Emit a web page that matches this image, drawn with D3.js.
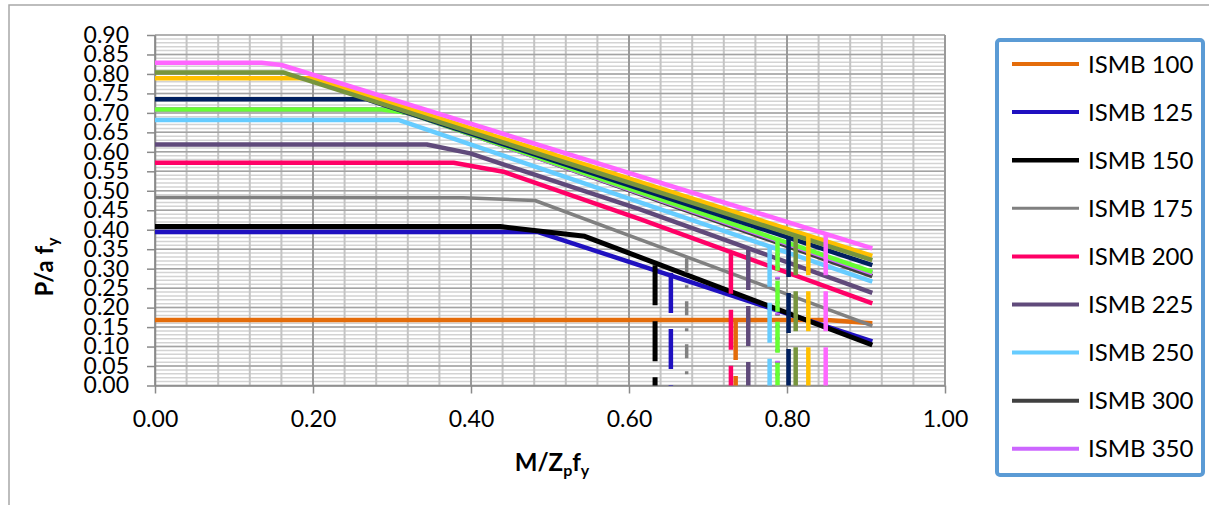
<!DOCTYPE html>
<meta charset="utf-8">
<style>
/* set the CSS */
body { margin: 0; background: #fff; }
text { font-family: Lato, "Open Sans", sans-serif; fill: #000; }

.grid-minor { stroke: #d3d3d3; stroke-width: 1.5px; }
.grid-vminor { stroke: #c4c4c4; stroke-width: 2px; }
.grid-major { stroke: #a3a3a3; stroke-width: 1.5px; }
.grid-vmajor { stroke: #9a9a9a; stroke-width: 2px; }

.axis path, .axis line { stroke: #8a8a8a; stroke-width: 1.5px; }
.axis text { font-size: 23px; }

.curve { fill: none; stroke-linejoin: round; }
.drop { fill: none; stroke-linecap: butt; }
</style>

<body>
    <!-- load the d3.js library -->
    <script src="https://d3js.org/d3.v7.min.js"></script>
    <script>
    // sections, in the order the workbook draws them
    var names = ["ISMB 100", "ISMB 125", "ISMB 150", "ISMB 175", "ISMB 200",
                 "ISMB 225", "ISMB 250", "ISMB 300", "ISMB 350", "ISMB 400",
                 "ISMB 450", "ISMB 500", "ISMB 550", "ISMB 600"];

    // only the first nine fit in the legend box
    var legendNames = names.slice(0, 9);

    // interaction curves: [M/Zp fy, P/a fy]
    var ismb100 = [[0, 0.168], [0.85, 0.168], [0.908, 0.160]];
    var ismb125 = [[0, 0.394], [0.485, 0.394], [0.908, 0.113]];
    var ismb150 = [[0, 0.408], [0.437, 0.408], [0.544, 0.383], [0.908, 0.104]];
    var ismb175 = [[0, 0.483], [0.39, 0.482], [0.481, 0.475], [0.908, 0.153]];
    var ismb200 = [[0, 0.572], [0.378, 0.572], [0.441, 0.549], [0.614, 0.427], [0.908, 0.211]];
    var ismb225 = [[0, 0.619], [0.344, 0.619], [0.399, 0.596], [0.614, 0.452], [0.908, 0.238]];
    var ismb250 = [[0, 0.682], [0.308, 0.682], [0.908, 0.267]];
    var ismb300 = [[0, 0.708], [0.30, 0.708], [0.33, 0.695], [0.908, 0.281]];
    var ismb350 = [[0, 0.708], [0.30, 0.708], [0.32, 0.700], [0.908, 0.288]];
    var ismb400 = [[0, 0.709], [0.285, 0.709], [0.32, 0.700], [0.908, 0.292]];
    var ismb450 = [[0, 0.735], [0.268, 0.735], [0.908, 0.309]];
    var ismb500 = [[0, 0.789], [0.20, 0.789], [0.908, 0.333]];
    var ismb550 = [[0, 0.804], [0.162, 0.804], [0.908, 0.322]];
    var ismb600 = [[0, 0.829], [0.135, 0.829], [0.16, 0.823], [0.908, 0.352]];

    // the vertical drop line of each section: x position and top value
    var dropX   = [0.735, 0.653, 0.633, 0.673, 0.729, 0.751, 0.778, 0.788, 0.788, 0.788, 0.802, 0.827, 0.811, 0.849];
    var dropTop = [0.168, 0.289, 0.309, 0.327, 0.338, 0.348, 0.356, 0.370, 0.372, 0.374, 0.381, 0.386, 0.386, 0.386];

    // tick labels
    var xTicks = [0, 0.2, 0.4, 0.6, 0.8, 1.0];
    var yTicks = [0, 0.05, 0.1, 0.15, 0.2, 0.25, 0.3, 0.35, 0.4, 0.45,
                  0.5, 0.55, 0.6, 0.65, 0.7, 0.75, 0.8, 0.85, 0.9];

    var curves = [ismb100, ismb125, ismb150, ismb175, ismb200, ismb225, ismb250,
                  ismb300, ismb350, ismb400, ismb450, ismb500, ismb550, ismb600];

    // styles
    var colors = ["#E46C0A", "#1F10C0", "#000000", "#808080", "#FF0066", "#604A7B", "#66CCFF",
                  "#404040", "#CC66FF", "#66FF33", "#002060", "#FFC000", "#77953D", "#FF66FF"];
    var widths = [4.5, 4.5, 5, 3.5, 4.5, 4.5, 4.5, 4.5, 4.5, 4.5, 4.5, 4.5, 4.5, 4.5];
    var dashes = ["40,16", "40,16", "40,16", "14,13,3,13", "40,16", "40,16", "40,16",
                  "2,10", "2,10", "31,10", "40,16", "40,16", "40,16", "40,16"];

    // plot area
    var plotLeft = 155, plotRight = 945, plotTop = 35, plotBottom = 385.5;

    var x = d3.scaleLinear().domain([0, 1]).range([plotLeft, plotRight]);
    var y = d3.scaleLinear().domain([0, 0.9]).range([plotBottom, plotTop]);

    var svg = d3.select("body").append("svg")
        .attr("width", 1209)
        .attr("height", 505);

    // chart frame
    svg.append("rect")
        .attr("x", 9).attr("y", 5)
        .attr("width", 1230).attr("height", 530)
        .attr("fill", "none")
        .attr("stroke", "#a8a8a8")
        .attr("stroke-width", 1.5);

    // gridlines
    var grid = svg.append("g");
    var yMinor = d3.range(0, 91).map(function(i) { return i / 100; });
    var xMinor = d3.range(0, 26).map(function(i) { return i * 0.04; });

    grid.selectAll(".grid-minor").data(yMinor).enter().append("line")
        .attr("class", "grid-minor")
        .attr("x1", plotLeft).attr("x2", plotRight)
        .attr("y1", function(d) { return y(d); })
        .attr("y2", function(d) { return y(d); });

    grid.selectAll(".grid-vminor").data(xMinor).enter().append("line")
        .attr("class", "grid-vminor")
        .attr("y1", plotTop).attr("y2", plotBottom)
        .attr("x1", function(d) { return x(d); })
        .attr("x2", function(d) { return x(d); });

    grid.selectAll(".grid-major").data(yTicks).enter().append("line")
        .attr("class", "grid-major")
        .attr("x1", plotLeft).attr("x2", plotRight)
        .attr("y1", function(d) { return y(d); })
        .attr("y2", function(d) { return y(d); });

    grid.selectAll(".grid-vmajor").data(xTicks).enter().append("line")
        .attr("class", "grid-vmajor")
        .attr("y1", plotTop).attr("y2", plotBottom)
        .attr("x1", function(d) { return x(d); })
        .attr("x2", function(d) { return x(d); });

    // axes
    svg.append("g")
        .attr("class", "axis")
        .attr("transform", "translate(" + plotLeft + ",0)")
        .call(d3.axisLeft(y).tickValues(yTicks).tickFormat(d3.format(".2f"))
            .tickSize(8).tickSizeOuter(0).tickPadding(18));

    svg.append("g")
        .attr("class", "axis")
        .attr("transform", "translate(0," + plotBottom + ")")
        .call(d3.axisBottom(x).tickValues(xTicks).tickFormat(d3.format(".2f"))
            .tickSize(8).tickSizeOuter(0).tickPadding(17));

    // curves
    var line = d3.line()
        .x(function(d) { return x(d[0]); })
        .y(function(d) { return y(d[1]); });

    svg.selectAll(".curve").data(curves).enter().append("path")
        .attr("class", "curve")
        .attr("stroke", function(d, i) { return colors[i]; })
        .attr("stroke-width", function(d, i) { return widths[i]; })
        .attr("d", line);

    // dashed drop lines
    svg.selectAll(".drop").data(dropX).enter().append("line")
        .attr("class", "drop")
        .attr("x1", function(d) { return x(d); })
        .attr("x2", function(d) { return x(d); })
        .attr("y1", function(d, i) { return y(dropTop[i]); })
        .attr("y2", y(0))
        .attr("stroke", function(d, i) { return colors[i]; })
        .attr("stroke-width", function(d, i) { return widths[i]; })
        .attr("stroke-dasharray", function(d, i) { return dashes[i]; });

    // axis titles
    var yTitle = svg.append("text")
        .attr("transform", "translate(53,267) rotate(-90)")
        .attr("text-anchor", "middle")
        .style("font-size", "24px")
        .style("font-weight", "bold");
    yTitle.append("tspan").text("P/a f");
    yTitle.append("tspan").attr("dy", 5).style("font-size", "16px").text("y");

    var xTitle = svg.append("text")
        .attr("x", 552).attr("y", 471)
        .attr("text-anchor", "middle")
        .style("font-size", "24px")
        .style("font-weight", "bold");
    xTitle.append("tspan").text("M/Z");
    xTitle.append("tspan").attr("dy", 5).style("font-size", "16px").text("p");
    xTitle.append("tspan").attr("dy", -5).text("f");
    xTitle.append("tspan").attr("dy", 5).style("font-size", "16px").text("y");

    // legend
    svg.append("rect")
        .attr("x", 997).attr("y", 40)
        .attr("width", 206).attr("height", 435)
        .attr("rx", 3)
        .attr("fill", "#fff")
        .attr("stroke", "#5B9BD5")
        .attr("stroke-width", 4);

    var legend = svg.selectAll(".legend").data(legendNames).enter().append("g")
        .attr("class", "legend")
        .attr("transform", function(d, i) { return "translate(0," + (64 + i * 48.1) + ")"; });

    legend.append("line")
        .attr("x1", 1012).attr("x2", 1079)
        .attr("stroke", function(d, i) { return colors[i]; })
        .attr("stroke-width", function(d, i) { return widths[i] - 0.5; });

    legend.append("text")
        .attr("x", 1088)
        .attr("dy", "0.36em")
        .style("font-size", "24px")
        .text(function(d) { return d; });
    </script>
</body>
